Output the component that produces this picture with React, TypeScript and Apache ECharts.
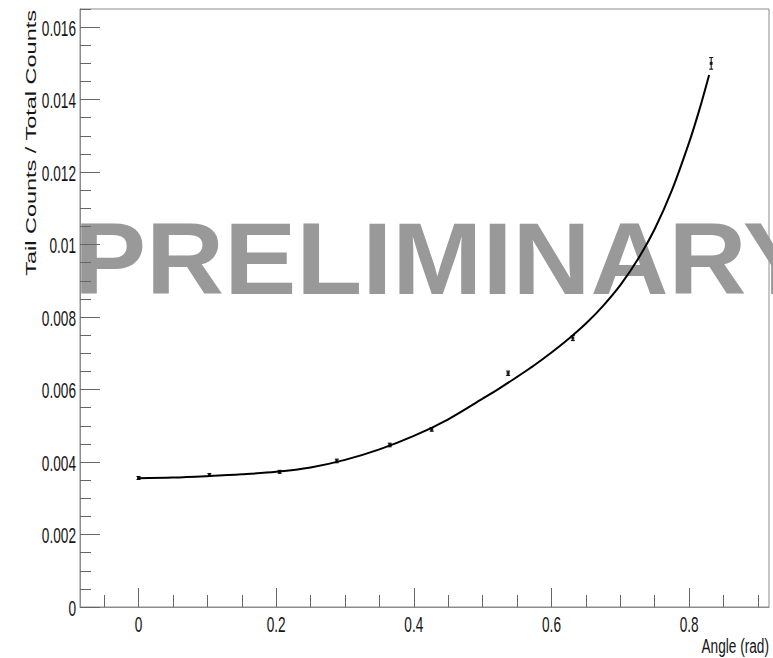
import React, { useEffect, useRef } from "react";
import * as echarts from "echarts";

// Measured points: scattering angle (rad) vs tail fraction, with uncertainties
const angles = [0, 0.103, 0.205, 0.288, 0.365, 0.426, 0.537, 0.631, 0.832];
const ratios = [0.00356, 0.00364, 0.00373, 0.00403, 0.00447, 0.0049, 0.00645, 0.00742, 0.015];
const ratioErrors = [0.00004, 0.00004, 0.00004, 0.00005, 0.00005, 0.00005, 0.00006, 0.00007, 0.00016];

// Fitted curve, sampled along the angle range
const fitAngles = [
  0, 0.05, 0.1, 0.15, 0.2, 0.25, 0.3, 0.35, 0.4, 0.45, 0.5, 0.525, 0.55,
  0.575, 0.6, 0.625, 0.65, 0.675, 0.7, 0.725, 0.75, 0.775, 0.8, 0.815, 0.829,
];
const fitValues = [
  0.00355, 0.00357, 0.00361, 0.00366, 0.00373, 0.00385, 0.00406, 0.00435, 0.00472, 0.00518, 0.00575, 0.00604, 0.00635,
  0.00667, 0.00702, 0.0074, 0.00782, 0.00831, 0.00888, 0.00958, 0.01043, 0.0115, 0.01282, 0.01373, 0.01468,
];

// Axis ranges and tick positions
const xMin = -0.085;
const xMax = 0.916;
const yMin = 0;
const yMax = 0.0165;
const xMajorTicks = [0, 0.2, 0.4, 0.6, 0.8];
const xMajorLabels = ["0", "0.2", "0.4", "0.6", "0.8"];
const xMinorTicks = [-0.05, 0.05, 0.1, 0.15, 0.25, 0.3, 0.35, 0.45, 0.5, 0.55, 0.65, 0.7, 0.75, 0.85, 0.9];
const yMajorTicks = [0, 0.002, 0.004, 0.006, 0.008, 0.01, 0.012, 0.014, 0.016];
const yMajorLabels = ["0", "0.002", "0.004", "0.006", "0.008", "0.01", "0.012", "0.014", "0.016"];
const yMinorTicks = [
  0.0005, 0.001, 0.0015, 0.0025, 0.003, 0.0035, 0.0045, 0.005, 0.0055,
  0.0065, 0.007, 0.0075, 0.0085, 0.009, 0.0095, 0.0105, 0.011, 0.0115,
  0.0125, 0.013, 0.0135, 0.0145, 0.015, 0.0155, 0.0165,
];

const xTitle = "Angle (rad)";
const yTitle = "Tail Counts / Total Counts";
const watermark = "PRELIMINARY";

const plainFont = '"Liberation Sans", Arial, Helvetica, sans-serif';
const frameColor = "#8c8c8c";
const tickColor = "#666666";
const textColor = "#151515";
// ROOT-style condensed lettering
const squeeze = 0.62;

const gridBox = { left: 80, right: 4, top: 9, bottom: 51 };

export default function App() {
  const ref = useRef<HTMLDivElement>(null);

  useEffect(() => {
    if (!ref.current) return;
    const chart = echarts.init(ref.current, null, { renderer: "svg" });

    const points = angles.map((a, i) => [a, ratios[i]]);
    const bars = angles.map((a, i) => [a, ratios[i], ratioErrors[i]]);
    const fit = fitAngles.map((a, i) => [a, fitValues[i]]);

    const tickAxis = (extra: any) => ({
      type: "value",
      z: 3,
      splitLine: { show: false },
      axisLabel: { show: false },
      ...extra,
    });

    chart.setOption({
      animation: false,
      backgroundColor: "#ffffff",
      grid: [
        {
          ...gridBox,
          show: true,
          borderColor: frameColor,
          borderWidth: 1,
          backgroundColor: "transparent",
          containLabel: false,
          outerBoundsMode: "none",
        },
        { ...gridBox, show: false, containLabel: false, outerBoundsMode: "none" },
      ],
      xAxis: [
        tickAxis({
          gridIndex: 0,
          min: xMin,
          max: xMax,
          position: "bottom",
          axisLine: { show: true, onZero: false, lineStyle: { color: frameColor, width: 1 } },
          axisTick: { show: true, inside: true, length: 19, customValues: xMajorTicks, lineStyle: { color: tickColor } },
        }),
        tickAxis({
          gridIndex: 1,
          min: xMin,
          max: xMax,
          position: "bottom",
          axisLine: { show: false, onZero: false },
          axisTick: { show: true, inside: true, length: 12, customValues: xMinorTicks, lineStyle: { color: tickColor } },
        }),
      ],
      yAxis: [
        tickAxis({
          gridIndex: 0,
          min: yMin,
          max: yMax,
          position: "left",
          axisLine: { show: true, onZero: false, lineStyle: { color: frameColor, width: 1 } },
          axisTick: { show: true, inside: true, length: 20, customValues: yMajorTicks, lineStyle: { color: tickColor } },
        }),
        tickAxis({
          gridIndex: 1,
          min: yMin,
          max: yMax,
          position: "left",
          axisLine: { show: false, onZero: false },
          axisTick: { show: true, inside: true, length: 11, customValues: yMinorTicks, lineStyle: { color: tickColor } },
        }),
      ],
      series: [
        {
          type: "line",
          name: "fit",
          xAxisIndex: 0,
          yAxisIndex: 0,
          data: fit,
          smooth: 0.35,
          showSymbol: false,
          symbol: "none",
          z: 4,
          lineStyle: { color: "#000000", width: 2 },
          silent: true,
        },
        {
          type: "custom",
          name: "errors",
          xAxisIndex: 0,
          yAxisIndex: 0,
          data: bars,
          z: 5,
          encode: { x: 0, y: 1 },
          renderItem: (_params: any, api: any) => {
            const x = api.value(0);
            const y = api.value(1);
            const e = api.value(2);
            const top = api.coord([x, y + e]);
            const bottom = api.coord([x, y - e]);
            const style = { stroke: "#000000", lineWidth: 1 };
            return {
              type: "group",
              children: [
                { type: "line", shape: { x1: top[0], y1: top[1], x2: bottom[0], y2: bottom[1] }, style },
                { type: "line", shape: { x1: top[0] - 2, y1: top[1], x2: top[0] + 2, y2: top[1] }, style },
                { type: "line", shape: { x1: bottom[0] - 2, y1: bottom[1], x2: bottom[0] + 2, y2: bottom[1] }, style },
              ],
            };
          },
        },
        {
          type: "scatter",
          name: "data",
          xAxisIndex: 0,
          yAxisIndex: 0,
          data: points,
          symbol: "rect",
          symbolSize: 3,
          z: 6,
          itemStyle: { color: "#000000" },
        },
      ],
    });

    // Tick labels placed from the axes' own scales, set in condensed lettering
    const axisBottom = chart.convertToPixel({ yAxisIndex: 0 }, yMin) as number;
    const axisLeft = chart.convertToPixel({ xAxisIndex: 0 }, xMin) as number;

    const labelStyle = (text: string, align: string) => ({
      text,
      font: `22px ${plainFont}`,
      fill: textColor,
      align,
      textAlign: align,
      verticalAlign: "middle",
      textVerticalAlign: "middle",
    });

    const yLabelTexts = yMajorTicks.map((v, i) => ({
      type: "text",
      z: 5,
      x: axisLeft - 4,
      y: (chart.convertToPixel({ yAxisIndex: 0 }, v) as number) + 1,
      scaleX: squeeze,
      style: labelStyle(yMajorLabels[i], "right"),
    }));

    const xLabelTexts = xMajorTicks.map((v, i) => ({
      type: "text",
      z: 5,
      x: chart.convertToPixel({ xAxisIndex: 0 }, v) as number,
      y: axisBottom + 17,
      scaleX: squeeze,
      style: labelStyle(xMajorLabels[i], "center"),
    }));

    chart.setOption({
      graphic: [
        {
          type: "text",
          z: 0,
          x: 74,
          y: 259,
          scaleX: 1.06,
          style: {
            text: watermark,
            font: `bold 102px ${plainFont}`,
            fill: "#999999",
            align: "left",
            textAlign: "left",
            verticalAlign: "middle",
            textVerticalAlign: "middle",
          },
        },
        {
          type: "text",
          z: 5,
          x: 31,
          y: 10,
          rotation: Math.PI / 2,
          scaleY: 0.66,
          style: {
            text: yTitle,
            font: `23.5px ${plainFont}`,
            fill: textColor,
            align: "right",
            textAlign: "right",
            verticalAlign: "middle",
            textVerticalAlign: "middle",
          },
        },
        {
          type: "text",
          z: 5,
          x: 769,
          y: 646,
          scaleX: 0.65,
          style: {
            text: xTitle,
            font: `21px ${plainFont}`,
            fill: textColor,
            align: "right",
            textAlign: "right",
            verticalAlign: "middle",
            textVerticalAlign: "middle",
          },
        },
        ...yLabelTexts,
        ...xLabelTexts,
      ],
    });

    return () => chart.dispose();
  }, []);

  return (
    <div
      ref={ref}
      style={{ position: "fixed", left: 0, top: 0, width: 773, height: 658, background: "#ffffff" }}
    />
  );
}
